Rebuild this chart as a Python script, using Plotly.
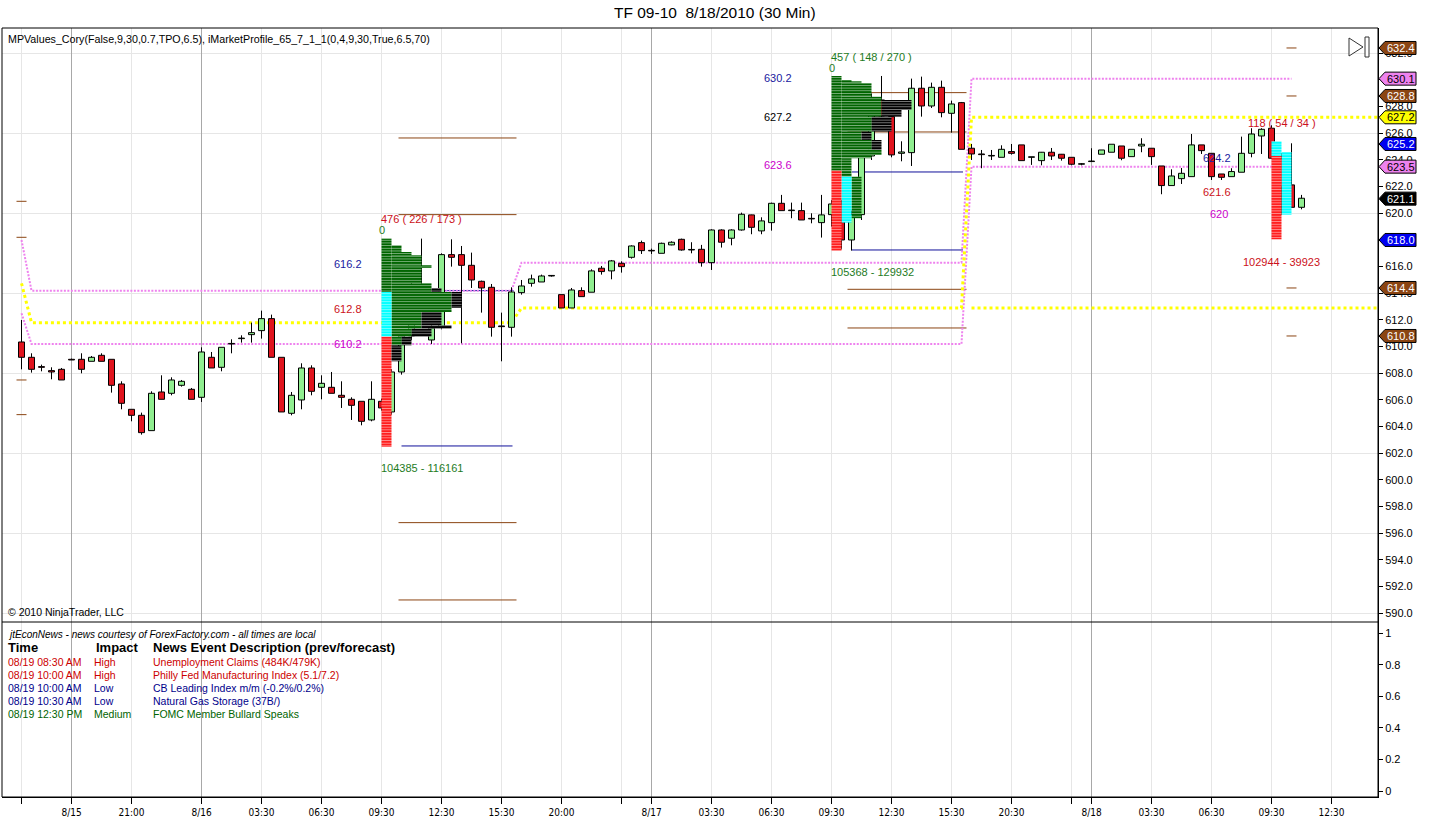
import plotly.graph_objects as go

# ======================= DATA =======================
# 30-min OHLC bars, one per bar slot (index = bar number on the time axis)
opens = [610.35, 609.2, 608.5, 608.2, 608.3, 609.05, 609.05, 608.9, 609.35, 609.05,
         607.2, 605.3, 604.85, 603.7, 606.6, 606.5, 607.1, 606.8, 606.2, 609.2,
         608.45, 610.2, 610.6, 610.9, 611.2, 612.1, 609.2, 605.0, 606.0, 608.4,
         606.95, 606.95, 606.35, 606.05, 605.9, 604.5, 605.9, 605.1, 608.1, 610.8,
         614.5, 610.5, 611.5, 616.9, 616.9, 616.1, 614.9, 614.45, 611.55, 611.45,
         614.05, 614.75, 614.85, 615.3, 613.9, 612.9, 614.2, 614.08, 615.88, 615.68,
         616.25, 616.7, 617.8, 617.2, 617.0, 617.63, 618.05, 617.25, 617.3, 616.3,
         618.75, 618.13, 618.75, 619.88, 618.68, 619.3, 620.75, 620.2, 620.2, 619.6,
         619.3, 619.9, 620.7, 618.0, 619.9, 624.3, 628.5, 627.25, 624.5, 624.55,
         629.38, 628.05, 629.45, 627.5, 628.3, 624.88, 624.45, 624.3, 624.2, 624.63,
         625.13, 624.2, 623.95, 624.58, 624.43, 624.2, 623.68, 623.88, 624.43, 624.58,
         625.05, 624.25, 625.05, 624.88, 623.55, 622.08, 622.6, 622.75, 625.13, 624.5,
         622.95, 622.75, 623.08, 624.5, 625.8, 626.38, 624.1, 622.13, 620.45]
highs = [612.0, 609.5, 608.65, 608.45, 608.4, 609.1, 609.5, 609.3, 609.5, 609.05,
         607.4, 605.3, 605.05, 606.65, 607.85, 607.7, 607.5, 606.9, 609.95, 609.6,
         609.95, 610.55, 610.85, 611.8, 612.7, 612.4, 609.2, 606.6, 608.75, 608.6,
         607.85, 608.1, 607.4, 606.2, 605.9, 607.4, 606.1, 608.3, 611.2, 615.0,
         618.1, 612.2, 617.0, 618.05, 617.55, 617.05, 614.95, 614.7, 612.55, 614.45,
         615.0, 615.4, 615.4, 615.35, 613.9, 614.4, 614.45, 615.8, 616.05, 616.5,
         616.4, 617.6, 617.95, 617.35, 617.8, 617.9, 618.1, 617.83, 617.63, 618.8,
         618.8, 618.8, 620.05, 619.9, 619.7, 620.8, 621.38, 620.8, 620.8, 620.0,
         621.38, 621.0, 621.0, 620.2, 624.6, 629.0, 630.3, 627.5, 625.4, 630.1,
         630.25, 629.8, 629.95, 628.45, 628.35, 625.2, 624.75, 624.75, 625.1, 625.2,
         625.13, 624.2, 624.6, 624.9, 624.45, 624.2, 623.75, 624.88, 624.75, 625.18,
         625.05, 624.8, 625.63, 624.88, 623.55, 623.3, 623.4, 625.95, 625.13, 624.5,
         622.95, 623.38, 625.75, 626.38, 626.38, 626.6, 624.5, 625.25, 621.38]
lows = [608.3, 608.05, 608.15, 607.55, 607.5, 609.0, 608.0, 608.9, 608.9, 606.55,
        605.3, 604.4, 603.4, 603.7, 606.05, 606.35, 607.0, 606.05, 605.85, 608.4,
        608.15, 609.5, 610.3, 610.3, 610.6, 609.2, 605.1, 604.85, 605.3, 606.35,
        606.05, 606.5, 605.4, 604.5, 604.1, 604.4, 605.2, 604.9, 607.9, 610.5,
        613.8, 610.2, 611.3, 616.0, 610.25, 614.4, 612.55, 610.75, 608.9, 610.75,
        613.9, 614.5, 614.85, 615.25, 612.9, 612.9, 613.75, 614.08, 615.4, 615.05,
        615.55, 616.6, 616.95, 616.95, 617.0, 617.6, 617.2, 617.0, 616.0, 615.75,
        617.43, 617.6, 618.7, 618.43, 618.43, 618.7, 620.2, 619.63, 619.5, 619.25,
        618.18, 619.0, 617.3, 617.2, 619.5, 624.0, 627.0, 624.2, 623.9, 623.55,
        627.25, 627.9, 627.2, 626.05, 624.8, 624.0, 623.38, 624.0, 624.2, 624.4,
        623.95, 623.63, 623.6, 624.0, 623.95, 623.6, 623.6, 623.88, 624.43, 624.58,
        623.98, 624.25, 624.58, 623.63, 621.43, 622.08, 622.2, 622.75, 624.45, 622.5,
        622.5, 622.75, 623.08, 624.2, 624.45, 624.13, 619.9, 620.4, 620.3]
closes = [609.2, 608.3, 608.45, 608.1, 607.5, 609.0, 608.3, 609.2, 608.9, 607.1,
          605.75, 604.85, 603.55, 606.5, 606.05, 607.5, 607.4, 606.05, 609.6, 608.4,
          609.95, 610.2, 610.6, 611.05, 612.1, 609.2, 605.1, 606.35, 608.4, 606.65,
          607.25, 606.5, 606.2, 605.6, 604.4, 606.05, 605.4, 608.1, 610.8, 614.5,
          614.2, 611.4, 616.9, 616.7, 616.1, 615.0, 614.4, 611.45, 611.5, 614.1,
          614.55, 615.08, 615.3, 615.3, 612.9, 614.25, 613.75, 615.68, 615.63, 616.43,
          616.0, 617.55, 617.2, 617.18, 617.75, 617.83, 617.25, 617.25, 616.3, 618.75,
          617.83, 618.75, 619.93, 618.95, 619.43, 620.75, 620.2, 620.2, 619.5, 619.58,
          619.88, 620.7, 618.0, 619.9, 624.25, 628.5, 627.3, 624.38, 624.6, 629.38,
          628.05, 629.45, 627.55, 628.2, 624.8, 624.45, 624.4, 624.3, 624.8, 624.5,
          623.95, 624.2, 624.58, 624.3, 624.13, 623.68, 623.68, 623.88, 624.75, 625.18,
          624.13, 624.8, 625.18, 624.25, 622.08, 622.8, 623.0, 625.13, 624.7, 622.75,
          622.7, 623.13, 624.5, 625.95, 626.3, 624.13, 622.0, 620.45, 621.13]
assert len(opens) == len(highs) == len(lows) == len(closes) == 129

# time-axis tick labels (bar index of each tick)
tick_idx = [0, 5, 11, 18, 24, 30, 36, 42, 48, 54, 60, 63, 69, 75, 81, 87, 93, 99, 105, 107, 113, 119, 125, 131]
tick_text = ["", "8/15", "21:00", "8/16", "03:30", "06:30", "09:30", "12:30", "15:30", "20:00", "",
             "8/17", "03:30", "06:30", "09:30", "12:30", "15:30", "20:30", "", "8/18",
             "03:30", "06:30", "09:30", "12:30"]
day_idx = [5, 18, 63, 107]

# value-area high / low (violet) and POC (yellow) step lines: breakpoints
vah_x = [0, 1, 49, 50, 94, 95, 127]
vah_y = [618.0, 614.2, 614.2, 616.3, 616.3, 630.1, 630.1]
val_x = [0, 1, 94, 95, 127]
val_y = [612.5, 610.2, 610.2, 623.5, 623.5]
poc_x = [0, 1, 49, 50, 94, 95]
poc_y = [614.75, 611.8, 611.8, 612.9, 612.9, 627.2]
naked_poc_start = 95
naked_poc_level = 612.9

# extension levels (brown) and IB / range levels (blue)
brown_lvl = [620.9, 618.2, 607.5, 604.9, 625.65, 619.9, 596.8, 591.0,
             629.05, 626.1, 614.3, 611.4, 632.4, 628.8, 614.4, 610.8]
brown_from = [-0.5] * 4 + [37.7] * 4 + [82.6] * 4 + [126.5] * 4
brown_to = [0.5] * 4 + [49.5] * 4 + [94.5] * 4 + [127.5] * 4
blue_lvl = [614.2, 602.55, 623.1, 617.25]
blue_from = [41.6, 38.0, 83.05, 83.05]
blue_to = [49.2, 49.1, 94.15, 94.15]

# market profiles: session start bar
profile_start = [36, 81, 125]
# first-column blocks (profile no., column offset, top, bottom, colour key)
col_prof = [0, 0, 0, 1, 1, 1, 1, 2, 2, 2]
col_off = [0, 0, 0, 0, 0, 1, 2, 0, 0, 1]
col_top = [618.1, 614.1, 610.75, 630.3, 623.2, 622.75, 622.75, 625.4, 624.3, 624.6]
col_bot = [614.1, 610.75, 602.5, 623.2, 617.2, 619.3, 619.63, 624.3, 618.05, 619.9]
col_key = ["g", "c", "r", "g", "r", "c", "g", "c", "r", "c"]
# profile bands beyond the first column: price band, green TPO count, black TPO count
p1_top = [617.6, 617.1, 616.85, 616.1, 615.9, 614.75, 614.4, 614.1, 612.9, 612.6, 611.6, 611.35, 610.75, 610.1]
p1_bot = [617.1, 616.85, 616.1, 615.9, 614.75, 614.4, 614.1, 612.9, 612.6, 611.6, 611.35, 610.75, 610.1, 608.9]
p1_green = [1, 2, 3, 4, 3, 4, 4, 6, 6, 3, 3, 2, 1, 0]
p1_black = [0, 0, 0, 0, 0, 0, 1, 1, 0, 2, 3, 2, 1, 1]
p2_top = [630.0, 629.9, 629.75, 628.75, 628.5, 627.75, 627.25, 626.13, 625.5, 624.75, 624.38, 624.13, 623.2]
p2_bot = [629.9, 629.75, 628.75, 628.5, 627.75, 627.25, 626.13, 625.5, 624.75, 624.38, 624.13, 623.2, 622.75]
p2_green = [1, 2, 3, 4, 4, 4, 3, 2, 3, 4, 3, 1, 1]
p2_black = [0, 0, 0, 0, 3, 2, 2, 1, 1, 0, 0, 0, 0]

# profile text labels
lbl_text = ["476 ( 226 / 173 )", "0", "616.2", "612.8", "610.2", "104385 - 116161",
            "457 ( 148 / 270 )", "0", "630.2", "627.2", "623.6", "105368 - 129932",
            "118 ( 54 / 34 )", "624.2", "621.6", "620", "102944 - 39923"]
lbl_price = [619.57, 618.75, 616.2, 612.8, 610.2, 600.9, 631.72, 630.9, 630.15, 627.2, 623.6,
             615.6, 626.77, 624.15, 621.6, 619.95, 616.35]

# right-axis price tags
tag_val = [632.4, 630.1, 628.8, 627.2, 625.2, 623.5, 621.1, 618.0, 614.4, 610.8]
tag_kind = ["ext", "va", "ext", "poc", "ib", "va", "last", "ib", "ext", "ext"]

# news panel
news_time = ["08/19 08:30 AM", "08/19 10:00 AM", "08/19 10:00 AM", "08/19 10:30 AM", "08/19 12:30 PM"]
news_impact = ["High", "High", "Low", "Low", "Medium"]
news_desc = ["Unemployment Claims (484K/479K)", "Philly Fed Manufacturing Index (5.1/7.2)",
             "CB Leading Index m/m (-0.2%/0.2%)", "Natural Gas Storage (37B/)",
             "FOMC Member Bullard Speaks"]

# ======================= LAYOUT CONSTANTS =======================
W, H = 1440, 840
ML, MR, MT, MB = 2, 62, 28, 43
PW, PH = W - ML - MR, H - MT - MB
SPLIT = 175 / PH
X_RANGE = [-1.95, 135.65]
Y_RANGE = [589.347, 633.898]
Y2_RANGE = [-0.038, 1.0717]
PRICE_PER_PX = (Y_RANGE[1] - Y_RANGE[0]) / (PH * (1 - SPLIT))

FONT = "Liberation Sans, Arial, sans-serif"
NARROW = "Liberation Sans Narrow, DejaVu Sans Condensed, Liberation Sans, sans-serif"
UP_FILL, DOWN_FILL = "#90EE90", "#E0141E"
PROF_COL = {"g": "#006400", "c": "#00FFFF", "r": "#FF1E1E", "k": "#000000"}
RED, GREEN, NAVY, MAG, BLK = "#CC1020", "#1E7B1E", "#2020A0", "#CC00CC", "#000000"
TAG_STYLE = {"ext": ("#8B4513", "white"), "va": ("#EE82EE", "black"), "poc": ("#FFFF00", "black"),
             "ib": ("#0000F0", "white"), "last": ("#000000", "white")}


def xp(px):
    return (px - ML) / PW


def yp(py):
    return (H - MB - py) / PH


fig = go.Figure()

# ---- day separator lines (both panels) ----
for yax, rng in (("y", Y_RANGE), ("y2", Y2_RANGE)):
    xs, ys = [], []
    for d in day_idx:
        xs += [d, d, None]
        ys += [rng[0], rng[1], None]
    fig.add_trace(go.Scatter(x=xs, y=ys, mode="lines", line=dict(color="#A8A8A8", width=1),
                             xaxis="x", yaxis=yax, hoverinfo="skip"))

# ---- brown & blue level segments ----
for lv, a, b, colr in ((brown_lvl, brown_from, brown_to, "#8B4513"), (blue_lvl, blue_from, blue_to, "#10109A")):
    xs, ys = [], []
    for v, x0, x1 in zip(lv, a, b):
        xs += [x0, x1, None]
        ys += [v, v, None]
    fig.add_trace(go.Scatter(x=xs, y=ys, mode="lines", line=dict(color=colr, width=1),
                             xaxis="x", yaxis="y", hoverinfo="skip"))

# ---- value area & POC dotted lines ----
fig.add_trace(go.Scatter(x=vah_x, y=vah_y, mode="lines", line=dict(color="#EE82EE", width=2, dash="2px,1.5px"),
                         xaxis="x", yaxis="y", hoverinfo="skip"))
fig.add_trace(go.Scatter(x=val_x, y=val_y, mode="lines", line=dict(color="#EE82EE", width=2, dash="2px,1.5px"),
                         xaxis="x", yaxis="y", hoverinfo="skip"))
fig.add_trace(go.Scatter(x=poc_x + [X_RANGE[1]], y=poc_y + [poc_y[-1]], mode="lines",
                         line=dict(color="#FFFF00", width=3, dash="dot"), xaxis="x", yaxis="y", hoverinfo="skip"))
fig.add_trace(go.Scatter(x=[naked_poc_start, X_RANGE[1]], y=[naked_poc_level, naked_poc_level], mode="lines",
                         line=dict(color="#FFFF00", width=3, dash="dot"), xaxis="x", yaxis="y", hoverinfo="skip"))

# ---- candles (overlay subplot x3/y3) ----
idx = list(range(len(opens)))
wx, wy = [], []
for i, o, h, l, c in zip(idx, opens, highs, lows, closes):
    top, bot = max(o, c), min(o, c)
    if h > top:
        wx += [i, i, None]
        wy += [h, top, None]
    if l < bot:
        wx += [i, i, None]
        wy += [bot, l, None]
fig.add_trace(go.Scatter(x=wx, y=wy, mode="lines", line=dict(color="black", width=1),
                         xaxis="x3", yaxis="y3", hoverinfo="skip"))
for is_up, fill in ((True, UP_FILL), (False, DOWN_FILL)):
    bx, bb, bh = [], [], []
    for i, o, c in zip(idx, opens, closes):
        if (c >= o) == is_up:
            bx.append(i)
            bb.append(min(o, c))
            bh.append(max(abs(c - o), 0.04))
    fig.add_trace(go.Bar(x=bx, y=bh, base=bb, width=0.6, marker=dict(color=fill, line=dict(color="black", width=1)),
                         xaxis="x3", yaxis="y3", hoverinfo="skip"))

# ---- market profiles (overlay subplot x4/y4, on top) ----
blocks = {k: dict(base=[], length=[], mid=[], height=[]) for k in PROF_COL}


def add_block(key, left, length, top, bot):
    b = blocks[key]
    b["base"].append(left)
    b["length"].append(length)
    b["mid"].append((top + bot) / 2)
    b["height"].append(top - bot)


for p, off, t, b_, k in zip(col_prof, col_off, col_top, col_bot, col_key):
    add_block(k, profile_start[p] + off, 1, t, b_)
for start, tops, bots, gl, bl in ((profile_start[0], p1_top, p1_bot, p1_green, p1_black),
                                  (profile_start[1], p2_top, p2_bot, p2_green, p2_black)):
    for t, b_, g, k in zip(tops, bots, gl, bl):
        if g > 0:
            add_block("g", start + 1, g, t, b_)
        if k > 0:
            add_block("k", start + 1 + g, k, t, b_)

for key, colr in PROF_COL.items():
    b = blocks[key]
    fig.add_trace(go.Bar(orientation="h", y=b["mid"], x=b["length"], base=b["base"], width=b["height"],
                         marker=dict(color=colr, line=dict(width=0),
                                     pattern=dict(shape="-", fgcolor="white", size=2.67, solidity=0.33)),
                         xaxis="x4", yaxis="y4", hoverinfo="skip"))

# ======================= ANNOTATIONS =======================
ann = []
# profile labels: (x bar-position, anchor, colour)
lbl_pos = [(35.85, "left", RED), (35.65, "left", GREEN), (34.15, "right", NAVY), (34.15, "right", RED),
           (34.15, "right", MAG), (35.85, "left", GREEN), (80.85, "left", GREEN), (80.65, "left", GREEN),
           (77.15, "right", NAVY), (77.15, "right", BLK), (77.15, "right", MAG), (80.85, "left", GREEN),
           (122.55, "left", RED), (121.05, "right", NAVY), (121.05, "right", RED), (120.75, "right", MAG),
           (122.05, "left", RED)]
for txt, yv, (xv, anc, colr) in zip(lbl_text, lbl_price, lbl_pos):
    ann.append(dict(x=xv, y=yv, xref="x", yref="y", text=txt, showarrow=False, xanchor=anc, yanchor="middle",
                    font=dict(family=FONT, size=11, color=colr), borderpad=0))

# title and captions
ann.append(dict(x=xp(715), y=yp(13), xref="paper", yref="paper", text="TF 09-10\u00a0 8/18/2010 (30 Min)",
                showarrow=False, xanchor="center", yanchor="middle", font=dict(family=FONT, size=15.5, color="black")))
ann.append(dict(x=xp(6), y=yp(39), xref="paper", yref="paper",
                text="MPValues_Cory(False,9,30,0.7,TPO,6.5), iMarketProfile_65_7_1_1(0,4,9,30,True,6.5,70)",
                showarrow=False, xanchor="left", yanchor="middle", font=dict(family=FONT, size=10.7, color="black")))
ann.append(dict(x=xp(6), y=yp(612), xref="paper", yref="paper", text="\u00a9 2010 NinjaTrader, LLC",
                showarrow=False, xanchor="left", yanchor="middle", font=dict(family=FONT, size=10.5, color="black")))

# news panel
ann.append(dict(x=xp(6), y=yp(634), xref="paper", yref="paper",
                text="<i>jtEconNews - news courtesy of ForexFactory.com - all times are local</i>",
                showarrow=False, xanchor="left", yanchor="middle", font=dict(family=FONT, size=10, color="black")))
for txt, px in (("Time", 6), ("Impact", 94), ("News Event Description (prev/forecast)", 151)):
    ann.append(dict(x=xp(px), y=yp(647), xref="paper", yref="paper", text="<b>" + txt + "</b>", showarrow=False,
                    xanchor="left", yanchor="middle", font=dict(family=FONT, size=13, color="black")))
impact_color = {"High": "#CC0000", "Low": "#00008B", "Medium": "#006400"}
for r, (t, imp, desc) in enumerate(zip(news_time, news_impact, news_desc)):
    py = 662 + 13 * r
    for txt, px in ((t, 6), (imp, 92), (desc, 151)):
        ann.append(dict(x=xp(px), y=yp(py), xref="paper", yref="paper", text=txt, showarrow=False,
                        xanchor="left", yanchor="middle",
                        font=dict(family=FONT, size=10.5, color=impact_color[imp])))

# right-axis tags
shapes = []
hh = 6.5 * PRICE_PER_PX
for v, kind in zip(tag_val, tag_kind):
    bg, fg = TAG_STYLE[kind]
    path = (f"M {xp(1379)},{v} L {xp(1385)},{v + hh} L {xp(1416)},{v + hh} "
            f"L {xp(1416)},{v - hh} L {xp(1385)},{v - hh} Z")
    shapes.append(dict(type="path", path=path, xref="paper", yref="y", fillcolor=bg,
                       line=dict(color="black", width=1), layer="above"))
    ann.append(dict(x=xp(1400.5), y=v, xref="paper", yref="y", text=f"{v:.1f}", showarrow=False,
                    xanchor="center", yanchor="middle", font=dict(family=FONT, size=11, color=fg)))

# panel frames
shapes.append(dict(type="rect", xref="paper", yref="paper", x0=0, x1=1, y0=0, y1=1,
                   line=dict(color="black", width=1), layer="above"))
shapes.append(dict(type="line", xref="paper", yref="paper", x0=0, x1=1, y0=SPLIT, y1=SPLIT,
                   line=dict(color="black", width=1), layer="above"))
# play/end icon
shapes.append(dict(type="path", xref="paper", yref="paper",
                   path=f"M {xp(1349)},{yp(38)} L {xp(1363)},{yp(47)} L {xp(1349)},{yp(56)} Z",
                   line=dict(color="#333333", width=1), fillcolor="white", layer="above"))
shapes.append(dict(type="rect", xref="paper", yref="paper", x0=xp(1365), x1=xp(1369), y0=yp(57), y1=yp(37),
                   line=dict(color="#333333", width=1), fillcolor="white", layer="above"))

axis_font = dict(family=FONT, size=11, color="black")
fig.update_layout(
    width=W, height=H, margin=dict(l=ML, r=MR, t=MT, b=MB, pad=0),
    paper_bgcolor="white", plot_bgcolor="white", showlegend=False, barmode="overlay", hovermode=False,
    xaxis=dict(domain=[0, 1], range=X_RANGE, anchor="y2", tickmode="array", tickvals=tick_idx, ticktext=tick_text,
               showgrid=True, gridcolor="#E6E6E6", gridwidth=1, ticks="outside", ticklen=6, tickcolor="black",
               showline=True, linecolor="black", zeroline=False, fixedrange=True,
               tickfont=dict(family=NARROW, size=10, color="black")),
    yaxis=dict(domain=[SPLIT, 1], range=Y_RANGE, anchor="x", side="right", tick0=590, dtick=2, tickformat=".1f",
               showgrid=False, ticks="outside", ticklen=4, tickcolor="black", showline=True, linecolor="black",
               zeroline=False, fixedrange=True, tickfont=axis_font),
    yaxis2=dict(domain=[0, SPLIT], range=Y2_RANGE, anchor="x", side="right", tickmode="array",
                tickvals=[0, 0.2, 0.4, 0.6, 0.8, 1], ticktext=["0", "0.2", "0.4", "0.6", "0.8", "1"],
                showgrid=False, ticks="outside", ticklen=4, tickcolor="black", showline=True, linecolor="black",
                zeroline=False, fixedrange=True, tickfont=axis_font),
    xaxis3=dict(overlaying="x", range=X_RANGE, anchor="y3", visible=False, fixedrange=True),
    yaxis3=dict(overlaying="y", range=Y_RANGE, anchor="x3", side="right", tick0=590, dtick=6, showgrid=True,
                gridcolor="#E6E6E6", showticklabels=False, ticks="", showline=False, zeroline=False,
                fixedrange=True),
    xaxis4=dict(overlaying="x", range=X_RANGE, anchor="y4", visible=False, fixedrange=True),
    yaxis4=dict(overlaying="y", range=Y_RANGE, anchor="x4", visible=False, fixedrange=True),
    annotations=ann, shapes=shapes,
)

fig.write_html("out.html", config={"displayModeBar": False},
               post_script="document.body.style.margin='0px';")
